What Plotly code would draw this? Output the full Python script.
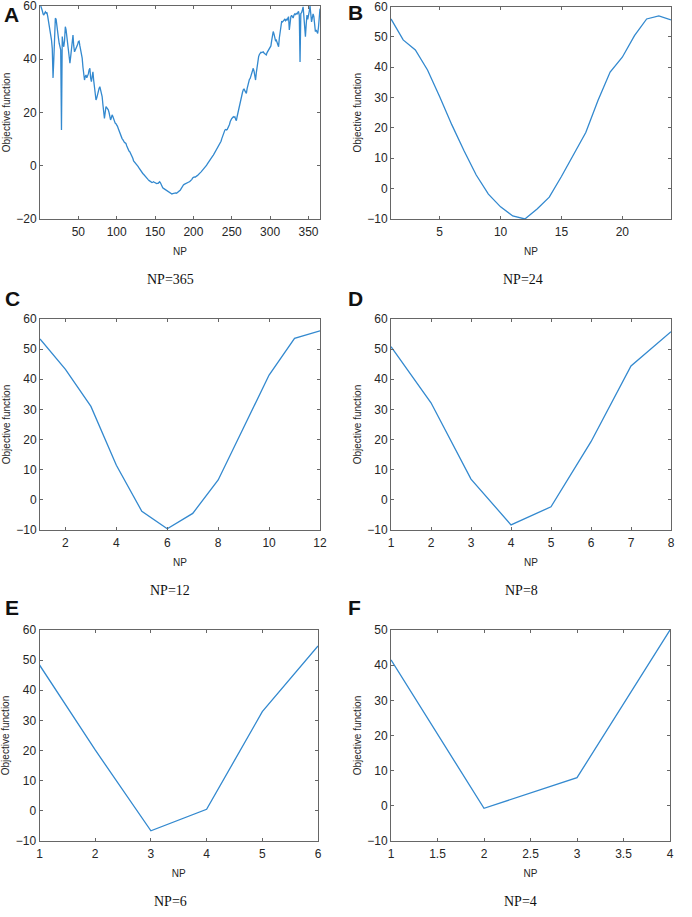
import plotly.graph_objects as go

# ---------------- data ----------------
np365_x = list(range(1, 366))
np365_y = [
    60, 59.4, 58.2, 57, 56.6, 57.3, 57.8, 57.3, 57.6, 56.2,
    54.5, 52.8, 51, 48.5, 47.2, 44, 33, 40, 50, 55.4,
    55, 52, 50, 48, 46, 45, 43.5, 13.4, 48.5, 46,
    44.7, 47, 52.2, 51, 48, 46, 43, 39.5, 38.5, 41,
    44.1, 47, 49.1, 45, 42.8, 43.5, 44, 44.5, 45.5, 46.6,
    46.8, 45, 43.5, 41.5, 40.4, 37, 33, 32.2, 33.5, 34.1,
    33, 33.5, 34.5, 36, 36.6, 33, 31.6, 33.5, 35.3, 32,
    29, 26.5, 24.7, 25.5, 27, 28, 29, 29.7, 28.5, 27.3,
    26, 23, 19, 17.8, 20, 22.2, 21.8, 21.5, 21, 20,
    18.5, 17.2, 18, 19.1, 18.5, 17.5, 16.5, 16, 15.8, 15.5,
    14.8, 14, 13.2, 12, 11.3, 10.8, 10.2, 9.8, 9, 8.8,
    8.6, 8.4, 7.5, 6.5, 6, 5.5, 5.3, 4.8, 4.2, 3.6,
    2.8, 1.8, 1.5, 1.1, 0.7, 0.3, 0, -0.3, -0.8, -1.3,
    -1.6, -2, -2.4, -2.9, -3.2, -3.6, -4, -4.3, -4.6, -4.9,
    -5.2, -5.5, -5.8, -5.9, -6.1, -6.3, -6.2, -6, -6.2, -6.5,
    -6.6, -6.7, -6.6, -6.6, -6.3, -6, -6.4, -7.2, -7.9, -8.3,
    -8.5, -8.7, -8.9, -9.1, -9.1, -9.3, -9.6, -9.9, -10.1, -10.3,
    -10.5, -10.6, -10.5, -10.4, -10.3, -10.1, -10.2, -10.3, -10.1, -9.9,
    -9.6, -9.3, -9.1, -8.6, -8, -7.6, -7.2, -7, -6.8, -6.6,
    -6.5, -6.3, -6, -6.1, -6, -5.8, -5.5, -5.1, -4.6, -4.3,
    -4.2, -4.3, -4.2, -3.9, -3.7, -3.5, -3.3, -3, -2.6, -2.3,
    -2, -1.7, -1.5, -1.1, -0.7, -0.3, 0.1, 0.6, 1.1, 1.6,
    2, 2.3, 2.8, 3.2, 3.6, 4, 4.5, 5, 5.6, 6.2,
    6.7, 7.1, 7.6, 8, 8.4, 9.2, 10.2, 11.2, 12.3, 13,
    13.4, 13.6, 13.4, 13.6, 14.2, 14.6, 15.5, 16.6, 17.8, 17.8,
    18, 18.4, 18.2, 18.4, 17.5, 16.9, 18.5, 20, 21.2, 22.2,
    23.5, 25, 26.5, 27.6, 28.5, 28.9, 28.2, 27.5, 27.2, 29,
    30.5, 31.5, 32.5, 32.8, 34, 35, 35.6, 36.6, 35.5, 33.5,
    32.2, 35, 37.5, 39.5, 41, 41.8, 42.2, 42.6, 42.5, 42.8,
    42.8, 42.3, 42, 41.8, 41.6, 42.5, 43, 43.5, 43.5, 44.5,
    45, 47, 48.5, 50.4, 49.5, 48, 47, 47.2, 46, 44.8,
    44.7, 48, 51, 53, 54.1, 54, 54.5, 54.8, 55, 54.5,
    55, 54.7, 55.5, 56, 51, 54, 56, 56.5, 56, 55.5,
    56.5, 57, 56.8, 57.2, 57, 57.5, 58, 56.5, 39, 57.2,
    57.5, 58.5, 59.7, 56, 52, 48.5, 53, 56.6, 55, 56,
    58, 60, 57, 54, 55.5, 57, 56, 53, 50.4, 51,
    50, 49.7, 52, 56, 59,
]

np24_x = list(range(1, 25))
np24_y = [55.9, 49, 45.7, 39.1, 30.3, 21, 12.5, 4.5, -1.8, -6,
          -9, -10, -6.7, -2.8, 4, 11.5, 18.5, 29, 38.4, 43.3,
          50.4, 55.9, 56.9, 55.6]

np12_x = list(range(1, 13))
np12_y = [53.4, 43.3, 31, 11.5, -3.8, -9.6, -4.5, 6.6, 24, 41.4, 53.6, 56.1]

np8_x = list(range(1, 9))
np8_y = [50.8, 32.2, 6.9, -8.3, -2.3, 19.3, 44.4, 55.8]

np6_x = list(range(1, 7))
np6_y = [48.4, 20.2, -6.6, 0.5, 32.9, 54.7]

np4_x = list(range(1, 5))
np4_y = [41.5, -0.7, 8, 50]

panel_letters = ["A", "B", "C", "D", "E", "F"]
captions = ["NP=365", "NP=24", "NP=12", "NP=8", "NP=6", "NP=4"]
x_label = "NP"
y_label = "Objective function"

# ---------------- layout geometry (pixels) ----------------
W, H = 692, 917
LINE = "#3389cf"
panels = [
    (np365_x, np365_y, (40, 320, 6, 219), [0, 365], [50, 100, 150, 200, 250, 300, 350], [-20, 60], [-20, 0, 20, 40, 60]),
    (np24_x, np24_y, (391, 671, 6.5, 219), [1, 24], [5, 10, 15, 20], [-10, 60], list(range(-10, 61, 10))),
    (np12_x, np12_y, (40, 320, 319, 530), [1, 12], [2, 4, 6, 8, 10, 12], [-10, 60], list(range(-10, 61, 10))),
    (np8_x, np8_y, (391, 671, 319, 530), [1, 8], list(range(1, 9)), [-10, 60], list(range(-10, 61, 10))),
    (np6_x, np6_y, (39.5, 318, 630, 841), [1, 6], list(range(1, 7)), [-10, 60], list(range(-10, 61, 10))),
    (np4_x, np4_y, (391, 670, 630, 841), [1, 4], [1, 1.5, 2, 2.5, 3, 3.5, 4], [-10, 50], list(range(-10, 51, 10))),
]
caption_pos = [(170.5, 279), (522.5, 279), (170, 590), (521, 590), (170, 901.5), (520, 901.5)]
letter_pos = [(2, 14), (346, 12), (3, 298), (346, 298), (3, 607), (346, 607)]

fig = go.Figure()
axis_common = dict(
    showline=True, mirror="ticks", linecolor="#666666", linewidth=1,
    ticks="inside", ticklen=3, tickcolor="#666666", showgrid=False,
    zeroline=False, tickfont=dict(family="Arial, Liberation Sans", size=12, color="#262626"),
    automargin=False, fixedrange=True, ticklabeloverflow="allow",
)

annotations = []
for i, (xs, ys, (l, r, t, b), xr, xt, yr, yt) in enumerate(panels):
    n = i + 1
    xa = "x" if n == 1 else f"x{n}"
    ya = "y" if n == 1 else f"y{n}"
    fig.add_trace(go.Scatter(x=xs, y=ys, mode="lines", xaxis=xa, yaxis=ya,
                             line=dict(color=LINE, width=1.3), showlegend=False,
                             hoverinfo="skip"))
    xkey = "xaxis" if n == 1 else f"xaxis{n}"
    ykey = "yaxis" if n == 1 else f"yaxis{n}"
    fig.update_layout(**{
        xkey: dict(axis_common, domain=[l / W, r / W], range=xr, tickvals=xt,
                   anchor=ya, ticklabelstandoff=2,
                   title=dict(text=x_label, standoff=9,
                              font=dict(family="Arial, Liberation Sans", size=10, color="#262626"))),
        ykey: dict(axis_common, domain=[1 - b / H, 1 - t / H], range=yr, tickvals=yt,
                   anchor=xa,
                   title=dict(text=y_label, standoff=3.5,
                              font=dict(family="Arial, Liberation Sans", size=10, color="#262626"))),
    })
    cx, cy = caption_pos[i]
    annotations.append(dict(text=captions[i], x=cx / W, y=1 - cy / H, xref="paper", yref="paper",
                            xanchor="center", yanchor="middle", showarrow=False,
                            font=dict(family="Liberation Serif, Times New Roman", size=14, color="#111111")))
    lx, ly = letter_pos[i]
    annotations.append(dict(text=f"<b>{panel_letters[i]}</b>", x=lx / W, y=1 - ly / H, xref="paper", yref="paper",
                            xanchor="left", yanchor="middle", showarrow=False,
                            font=dict(family="Arial, Liberation Sans", size=21, color="#111111")))

fig.update_layout(
    width=W, height=H, margin=dict(l=0, r=0, t=0, b=0),
    paper_bgcolor="white", plot_bgcolor="white",
    annotations=annotations,
)

fig.write_html("out.html", config={"displayModeBar": False, "staticPlot": True},
               post_script="document.body.style.margin='0';")
